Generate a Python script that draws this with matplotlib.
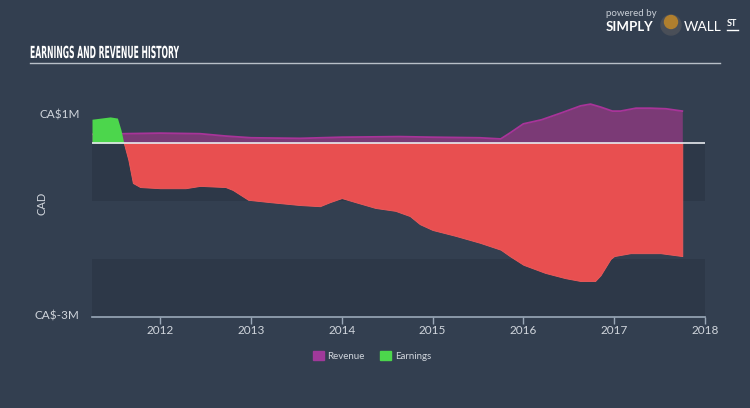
from matplotlib import pyplot as plt
from matplotlib.patches import Patch, Ellipse
from matplotlib.lines import Line2D
from matplotlib.patheffects import AbstractPathEffect
from matplotlib.transforms import Affine2D
import numpy as np

# ---------------- data (CA$ millions) ----------------
earn_dates = [2011.25, 2011.45, 2011.53, 2011.57, 2011.60, 2011.65, 2011.70, 2011.78,
              2012.00, 2012.28, 2012.44, 2012.72, 2012.80, 2012.97, 2013.21, 2013.54,
              2013.76, 2013.87, 2014.00, 2014.15, 2014.37, 2014.59, 2014.75, 2014.86,
              2015.00, 2015.25, 2015.52, 2015.75, 2015.85, 2016.00, 2016.24, 2016.46,
              2016.63, 2016.79, 2016.85, 2016.96, 2017.00, 2017.18, 2017.51, 2017.75]
earnings = [0.41, 0.45, 0.43, 0.22, 0.00, -0.29, -0.69, -0.76,
            -0.78, -0.78, -0.74, -0.76, -0.81, -0.98, -1.02, -1.07,
            -1.09, -1.02, -0.95, -1.02, -1.12, -1.17, -1.26, -1.40,
            -1.50, -1.60, -1.72, -1.84, -1.95, -2.10, -2.24, -2.33,
            -2.38, -2.38, -2.28, -2.00, -1.95, -1.90, -1.90, -1.95]

rev_dates = [2011.25, 2011.60, 2012.00, 2012.44, 2012.72, 2013.00, 2013.54, 2014.00,
             2014.64, 2015.00, 2015.52, 2015.75, 2015.85, 2016.00, 2016.20, 2016.42,
             2016.63, 2016.74, 2016.85, 2016.98, 2017.07, 2017.24, 2017.40, 2017.57, 2017.75]
revenue = [0.15, 0.16, 0.17, 0.16, 0.12, 0.09, 0.08, 0.10,
           0.11, 0.10, 0.09, 0.07, 0.17, 0.33, 0.40, 0.52,
           0.64, 0.67, 0.62, 0.55, 0.55, 0.60, 0.60, 0.59, 0.55]

years = [2012, 2013, 2014, 2015, 2016, 2017, 2018]

# ---------------- style ----------------
BG = '#333f50'
BAND = '#2d3848'
TXT = '#d0d5dc'
plt.rcParams['font.family'] = ['Lato', 'DejaVu Sans']


class Narrow(AbstractPathEffect):
    # squeeze text horizontally (no condensed font installed)
    def __init__(self, sx):
        super().__init__()
        self.sx = sx

    def draw_path(self, renderer, gc, tpath, affine, rgbFace=None):
        renderer.draw_path(gc, tpath, Affine2D().scale(self.sx, 1) + affine, rgbFace)


fig = plt.figure(figsize=(7.5, 4.08), dpi=100, facecolor=BG)
ax = fig.add_axes([92/750, 1-317/408, 613/750, (317-85)/408])
ax.set_facecolor(BG)

ax.axhspan(-1, 0, color=BAND, lw=0, zorder=0)
ax.axhspan(-3, -2, color=BAND, lw=0, zorder=0)

# revenue
ax.fill_between(rev_dates, 0, revenue, color='#7b3a76', lw=0, zorder=2)
ax.plot(rev_dates, revenue, color='#a83499', lw=1.3, zorder=3)

# earnings
e = np.array(earnings)
ax.fill_between(earn_dates, 0, e, where=e >= 0, interpolate=True, color='#4cd64c', lw=0, zorder=4)
ax.fill_between(earn_dates, 0, e, where=e <= 0, interpolate=True, color='#e84f50',
                edgecolor='#f05c5c', lw=0.6, zorder=4)

ax.axhline(0, color='#e6e9ee', lw=1.2, zorder=6)

ax.set_xlim(2011.25, 2018.0)
ax.set_ylim(-3, 1)
for s in ['top', 'right', 'left']:
    ax.spines[s].set_visible(False)
ax.spines['bottom'].set_color('#9aa8b8')
ax.spines['bottom'].set_linewidth(1.2)
ax.set_xticks(years)
ax.set_xticklabels([str(y) for y in years])
ax.tick_params(axis='x', colors='#9aa8b8', labelcolor=TXT, labelsize=8.5, length=5, width=1, pad=0.5)
ax.set_yticks([])

ax.text(-0.02, 0.87, 'CA\\$1M', transform=ax.transAxes, ha='right', va='center', color=TXT, fontsize=8.5)
ax.text(-0.02, 0.005, 'CA\\$-3M', transform=ax.transAxes, ha='right', va='center', color=TXT, fontsize=8.5)
fig.text(42/750, 1-203/408, 'CAD', rotation=90, ha='center', va='center', color=TXT, fontsize=8)

# title
fig.text(30/750, 1-53/408, 'EARNINGS AND REVENUE HISTORY', ha='left', va='center', color='white',
         fontsize=12, fontweight='bold', family='DejaVu Sans', path_effects=[Narrow(0.46)])
fig.add_artist(Line2D([30/750, 720/750], [1-63/408, 1-63/408], color='#b8bfc8', lw=1))

# legend
handles = [Patch(color='#a0399a', label='Revenue'), Patch(color='#4cd64c', label='Earnings')]
leg = fig.legend(handles=handles, loc='center', bbox_to_anchor=(372/750, 1-356/408), ncol=2,
                 frameon=False, fontsize=7, handlelength=1.1, handleheight=1.1,
                 columnspacing=1.6, handletextpad=0.4)
for t in leg.get_texts():
    t.set_color(TXT)

# logo
fig.text(606/750, 1-14/408, 'powered by', color='#c8ced6', fontsize=7, ha='left', va='center')
fig.text(606/750, 1-27/408, 'SIMPLY', color='white', fontsize=9.5, fontweight='bold', ha='left', va='center')
fig.add_artist(Ellipse((671/750, 1-25/408), 20/750, 20/408, transform=fig.transFigure, color='#4a4f58'))
fig.add_artist(Ellipse((671/750, 1-22/408), 13/750, 13/408, transform=fig.transFigure, color='#b07f2e'))
fig.text(684/750, 1-27/408, 'WALL', color='white', fontsize=10, ha='left', va='center')
fig.text(727/750, 1-24/408, 'ST', color='white', fontsize=6.5, fontweight='bold', ha='left', va='center')
fig.add_artist(Line2D([727/750, 738/750], [1-30/408, 1-30/408], color='white', lw=1))

fig.savefig('out.png', dpi=100, facecolor=BG)
